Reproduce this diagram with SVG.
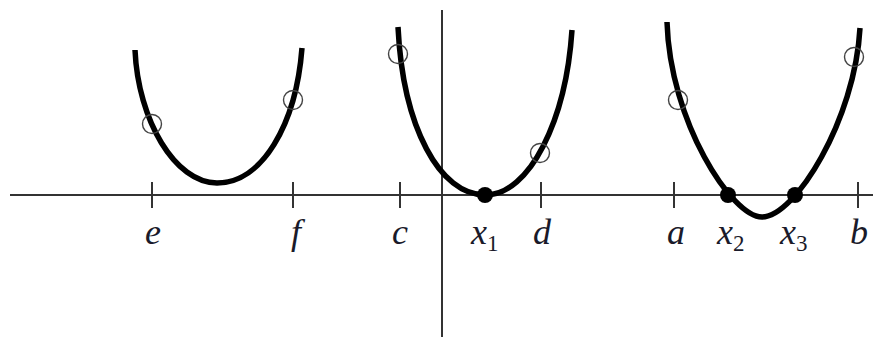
<svg xmlns="http://www.w3.org/2000/svg" width="879" height="337" viewBox="0 0 879 337">
<style>
.axis{stroke:#333;stroke-width:2;fill:none}
.tick{stroke:#333;stroke-width:2;fill:none}
.curve{stroke:#000;stroke-width:5.5;fill:none;stroke-linecap:butt}
.open{stroke:#444;stroke-width:1.4;fill:none}
.root{fill:#000}
.lbl{font-family:"Liberation Serif","DejaVu Serif",serif;font-style:italic;font-size:36px;fill:#1a1a2a}
.sub{font-style:normal;font-size:23px}
</style>
<rect width="879" height="337" fill="#fff"/>
<g id="axes">
<line class="axis" x1="10" y1="195" x2="873" y2="195"/>
<line class="axis" x1="442" y1="10" x2="442" y2="337"/>
</g>
<g id="ticks">
<line class="tick" x1="152" y1="182" x2="152" y2="208"/>
<line class="tick" x1="293" y1="182" x2="293" y2="208"/>
<line class="tick" x1="400" y1="182" x2="400" y2="208"/>
<line class="tick" x1="541" y1="182" x2="541" y2="208"/>
<line class="tick" x1="674" y1="182" x2="674" y2="208"/>
<line class="tick" x1="858" y1="182" x2="858" y2="208"/>
</g>
<g id="curve-ef">
<path class="curve" d="M135,50 C138,120 175,183 217,183 C262,183 296,125 302,48"/>
<circle class="open" cx="152" cy="124" r="9.5"/>
<circle class="open" cx="293" cy="100" r="9.5"/>
</g>
<g id="curve-cd">
<path class="curve" d="M398,27 C403,128 440,195 485,195 C530,195 566,120 572,30"/>
<circle class="open" cx="398" cy="54" r="9.5"/>
<circle class="open" cx="540" cy="153" r="9.5"/>
<circle class="root" cx="485" cy="195" r="8"/>
</g>
<g id="curve-ab">
<path class="curve" d="M667,22 C670,122 732,217 762,217 C795,217 855,120 860,28"/>
<circle class="open" cx="678" cy="100" r="9.5"/>
<circle class="open" cx="854" cy="57" r="9.5"/>
<circle class="root" cx="728" cy="195" r="8"/>
<circle class="root" cx="795" cy="195" r="8"/>
</g>
<g id="labels">
<text class="lbl" x="153" y="244" text-anchor="middle">e</text>
<text class="lbl" x="296" y="244" text-anchor="middle">f</text>
<text class="lbl" x="400" y="244" text-anchor="middle">c</text>
<text class="lbl" x="471" y="244">x<tspan class="sub" dy="7">1</tspan></text>
<text class="lbl" x="542" y="244" text-anchor="middle">d</text>
<text class="lbl" x="676" y="244" text-anchor="middle">a</text>
<text class="lbl" x="717" y="244">x<tspan class="sub" dy="7">2</tspan></text>
<text class="lbl" x="780" y="244">x<tspan class="sub" dy="7">3</tspan></text>
<text class="lbl" x="859" y="244" text-anchor="middle">b</text>
</g>
</svg>
